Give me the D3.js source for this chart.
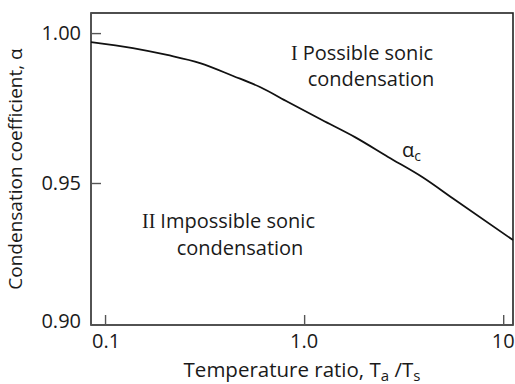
<!DOCTYPE html>
<html>
<head>
<meta charset="utf-8">
<script src="https://cdn.jsdelivr.net/npm/d3@7"></script>
<style>
  html, body { margin: 0; padding: 0; background: #fff; }
  svg { display: block; }
  text { font-family: "Open Sans", "Noto Sans", sans-serif; fill: #1a1a1a; }
</style>
</head>
<body>
<svg id="chart" width="515" height="384"></svg>
<script>
// Temperature ratio Ta/Ts (log axis) and critical condensation coefficient α_c
const ratio = [0.085, 0.138, 0.205, 0.30, 0.44, 0.60, 0.83, 1.23, 1.80, 2.64, 3.92, 5.74, 11.2];
const alphaC = [0.997, 0.995, 0.9927, 0.990, 0.9857, 0.982, 0.977, 0.971, 0.9653, 0.9587, 0.952, 0.944, 0.9299];

const xTicks = [0.1, 1, 10];
const xTickLabels = ["0.1", "1.0", "10"];
const yTicks = [0.90, 0.95, 1.00];
const yTickLabels = ["0.90", "0.95", "1.00"];

const plot = { left: 91, right: 513, top: 13, bottom: 325 };

const svg = d3.select("#chart");

const x = d3.scaleLog()
  .domain([0.085, 11.2])
  .range([plot.left, plot.right]);

// the vertical axis is linear between ticks
const y = d3.scaleLinear()
  .domain([0.90, 0.95, 1.0067])
  .range([plot.bottom, 183, plot.top]);

const axisColor = "#555";
const tickFont = 20;
const labelFont = 20;

// frame
svg.append("rect")
  .attr("x", plot.left).attr("y", plot.top)
  .attr("width", plot.right - plot.left).attr("height", plot.bottom - plot.top)
  .attr("fill", "none").attr("stroke", "#222").attr("stroke-width", 1.6);

// bottom axis: ticks pointing inward
const xAxis = d3.axisTop(x)
  .tickValues(xTicks)
  .tickSize(10)
  .tickFormat(() => "");
const gx = svg.append("g").attr("transform", `translate(0,${plot.bottom})`).call(xAxis);
gx.select(".domain").remove();
gx.selectAll(".tick line").attr("stroke", axisColor).attr("stroke-width", 1.4);

svg.append("g").selectAll("text")
  .data(xTicks)
  .join("text")
  .attr("x", (d, i) => x(d) + (i === 0 ? 1 : 0))
  .attr("y", 348)
  .attr("text-anchor", "middle")
  .attr("font-size", tickFont)
  .text((d, i) => xTickLabels[i]);

// left axis: ticks pointing inward
const yAxis = d3.axisRight(y)
  .tickValues(yTicks.slice(1))
  .tickSize(10)
  .tickFormat(() => "");
const gy = svg.append("g").attr("transform", `translate(${plot.left},0)`).call(yAxis);
gy.select(".domain").remove();
gy.selectAll(".tick line").attr("stroke", axisColor).attr("stroke-width", 1.4);

svg.append("g").selectAll("text")
  .data(yTicks)
  .join("text")
  .attr("x", 81)
  .attr("y", d => (d === 0.90 ? y(d) - 4 : y(d)))
  .attr("dy", "0.35em")
  .attr("text-anchor", "end")
  .attr("font-size", tickFont)
  .text((d, i) => yTickLabels[i]);

// bottom and left edges drawn in axis grey
svg.append("line")
  .attr("x1", plot.left).attr("x2", plot.right)
  .attr("y1", plot.bottom).attr("y2", plot.bottom)
  .attr("stroke", axisColor).attr("stroke-width", 1.6);
svg.append("line")
  .attr("x1", plot.left).attr("x2", plot.left)
  .attr("y1", plot.top).attr("y2", plot.bottom)
  .attr("stroke", axisColor).attr("stroke-width", 1.6);

// critical curve
const line = d3.line()
  .x((d, i) => x(ratio[i]))
  .y(d => y(d))
  .curve(d3.curveMonotoneX);

svg.append("path")
  .datum(alphaC)
  .attr("d", line)
  .attr("fill", "none")
  .attr("stroke", "#111")
  .attr("stroke-width", 1.8);

// curve label α_c
const ac = svg.append("text").attr("x", 402).attr("y", 157).attr("font-size", labelFont);
ac.append("tspan").text("α");
ac.append("tspan").attr("font-size", 14).attr("dy", 4).text("c");

// region labels
const serif = "'Liberation Serif', 'DejaVu Serif', serif";
const r1 = svg.append("text").attr("x", 291).attr("y", 60).attr("font-size", labelFont);
r1.append("tspan").attr("font-family", serif).text("I ");
r1.append("tspan").text("Possible sonic");
svg.append("text").attr("x", 371).attr("y", 86).attr("font-size", labelFont)
  .attr("text-anchor", "middle").text("condensation");

const r2 = svg.append("text").attr("x", 142).attr("y", 228).attr("font-size", labelFont);
r2.append("tspan").attr("font-family", serif).text("II ");
r2.append("tspan").text("Impossible sonic");
svg.append("text").attr("x", 240).attr("y", 255).attr("font-size", labelFont)
  .attr("text-anchor", "middle").text("condensation");

// axis titles
const xt = svg.append("text").attr("x", 302).attr("y", 377)
  .attr("text-anchor", "middle").attr("font-size", 20.5);
xt.append("tspan").text("Temperature ratio, T");
xt.append("tspan").attr("font-size", 15).attr("dy", 4).text("a");
xt.append("tspan").attr("dy", -4).text(" /T");
xt.append("tspan").attr("font-size", 15).attr("dy", 4).text("s");

svg.append("text")
  .attr("transform", `translate(22,169) rotate(-90)`)
  .attr("text-anchor", "middle")
  .attr("font-size", 19)
  .text("Condensation coefficient, α");
</script>
</body>
</html>
